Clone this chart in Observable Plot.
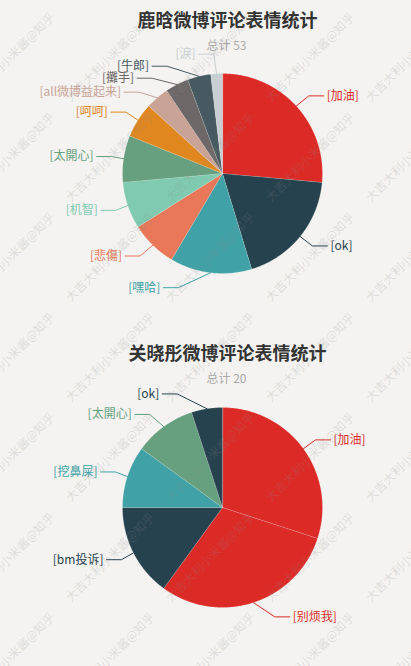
<!DOCTYPE html>
<html><head><meta charset="utf-8">
<script src="https://cdn.jsdelivr.net/npm/d3@7"></script>
<script src="https://cdn.jsdelivr.net/npm/@observablehq/plot@0.6"></script>
<style>
html,body{margin:0;padding:0;background:#f4f3f1;}
#chart{width:411px;height:666px;overflow:hidden;}
</style></head><body><div id="chart"></div>
<script>
// ---- data ----
const titles = ["鹿晗微博评论表情统计", "关晓彤微博评论表情统计"];
const subtitles = ["总计 53", "总计 20"];
const luhanNames = ["加油","ok","嘿哈","悲傷","机智","太開心","呵呵","all微博益起来","攤手","牛郎","淚"];
const luhanValues = [14,10,7,4,4,4,3,2,2,2,1];
const guanNames = ["加油","别烦我","bm投诉","挖鼻屎","太開心","ok"];
const guanValues = [6,6,3,2,2,1];
const colorNames = ["加油","ok","嘿哈","悲傷","机智","太開心","呵呵","all微博益起来","攤手","牛郎","淚","别烦我","bm投诉","挖鼻屎"];
const colorValues = ["#dc2b27","#27424f","#40a2a6","#e9775a","#7fcab0","#66a07e","#e0871f","#c9a496","#6d6867","#475a62","#c8cfd2","#dc2b27","#27424f","#40a2a6"];
const watermarkText = "大吉大利小米酱@知乎";

// ---- layout ----
const W = 411, H = 666;
const panels = [
  {names: luhanNames, values: luhanValues, top: 0, cy: 173},
  {names: guanNames, values: guanValues, top: 333, cy: 507}
];
const cx = 222, R = 100, LEN = 15, LEN2 = 15, LABEL_H = 12;

const slicePts = [], linePts = [], labelsL = [], labelsR = [], titleData = [], subData = [];

panels.forEach((p, pi) => {
  titleData.push({x: 227, y: p.top + 21, text: titles[pi]});
  subData.push({x: 226, y: p.top + 46, text: subtitles[pi]});
  const data = p.names.map((n, i) => ({name: n, value: p.values[i]}));
  const arcs = d3.pie().sort(null).value(d => d.value)(data);
  const labels = [];
  arcs.forEach((a, i) => {
    const key = pi + "-" + a.data.name;
    slicePts.push({key, name: a.data.name, x: cx, y: p.cy});
    const n = Math.max(2, Math.ceil((a.endAngle - a.startAngle) / 0.01));
    for (let k = 0; k <= n; k++) {
      const t = a.startAngle + (a.endAngle - a.startAngle) * k / n;
      slicePts.push({key, name: a.data.name, x: cx + R * Math.sin(t), y: p.cy - R * Math.cos(t)});
    }
    const m = (a.startAngle + a.endAngle) / 2;
    const dx = Math.sin(m), dy = -Math.cos(m);
    const x1 = cx + R * dx, y1 = p.cy + R * dy;
    const x2 = cx + (R + LEN) * dx, y2 = p.cy + (R + LEN) * dy;
    const s = dx < 0 ? -1 : 1;
    const x3 = x2 + s * LEN2;
    labels.push({key, name: a.data.name, side: s, x: x3 + s * 5, y: y2, height: LABEL_H,
      pts: [[x1, y1], [x2, y2], [x3, y2]]});
  });
  // echarts-like overlap avoidance per side
  [-1, 1].forEach(dir => {
    const list = labels.filter(l => l.side === dir).sort((a, b) => a.y - b.y);
    const len = list.length;
    function shiftUp(end, delta) {
      for (let j = end; j >= 0; j--) {
        list[j].y -= delta;
        if (j > 0 && list[j].y > list[j - 1].y + list[j - 1].height) break;
      }
    }
    function shiftDown(start, end, delta) {
      for (let j = start; j < end; j++) {
        list[j].y += delta;
        if (j > start && j + 1 < end && list[j + 1].y > list[j].y + list[j].height) {
          shiftUp(j, delta / 2);
          return;
        }
      }
      shiftUp(end - 1, delta / 2);
    }
    let lastY = 0;
    for (let i = 0; i < len; i++) {
      const delta = list[i].y - lastY;
      if (delta < 0) shiftDown(i, len, -delta);
      lastY = list[i].y + list[i].height;
    }
    const up = list.filter(l => l.y < p.cy), down = list.filter(l => l.y >= p.cy);
    [[up, false], [down, true]].forEach(([lst, isDown]) => {
      let last = isDown ? Number.MAX_VALUE : 0;
      lst.forEach(l => {
        const dY = Math.abs(l.y - p.cy);
        let dX = dY < R + LEN ? Math.sqrt((R + LEN + LEN2) ** 2 - dY * dY) : Math.abs(l.x - cx);
        if (isDown && dX >= last) dX = last - 10;
        if (!isDown && dX <= last) dX = last + 10;
        l.x = cx + dX * dir;
        last = dX;
      });
    });
  });
  labels.forEach(l => {
    const dist = l.pts[1][0] - l.pts[2][0];
    const ex = l.x - l.side * 3;
    const pts = [l.pts[0], [ex + dist, l.y], [ex, l.y]];
    pts.forEach(([x, y]) => linePts.push({key: l.key, name: l.name, x, y}));
    (l.side < 0 ? labelsL : labelsR).push({name: l.name, x: l.x, y: l.y, text: "[" + l.name + "]"});
  });
});

// watermark grid
const wm = [];
for (let i = -1; i <= 5; i++) for (let j = 0; j <= 7; j++) wm.push({x: 10 + 100 * i, y: 57 + 100 * j, text: watermarkText});

const chart = Plot.plot({
  width: W, height: H, margin: 0,
  x: {domain: [0, W], range: [0, W], axis: null},
  y: {domain: [0, H], range: [0, H], axis: null},
  color: {type: "ordinal", domain: colorNames, range: colorValues},
  style: {background: "#f4f3f1", fontFamily: "'Noto Sans CJK SC', 'Noto Sans', sans-serif"},
  marks: [
    Plot.line(slicePts, {x: "x", y: "y", z: "key", fill: "name", stroke: "#ffffff", strokeOpacity: 0.35, strokeWidth: 0.5, curve: "linear-closed"}),
    Plot.line(linePts, {x: "x", y: "y", z: "key", stroke: "name", strokeWidth: 1}),
    Plot.text(labelsL, {x: "x", y: "y", text: "text", fill: "name", textAnchor: "end", fontSize: 12}),
    Plot.text(labelsR, {x: "x", y: "y", text: "text", fill: "name", textAnchor: "start", fontSize: 12}),
    Plot.text(titleData, {x: "x", y: "y", text: "text", fontSize: 18, fontWeight: "bold", fill: "#333"}),
    Plot.text(subData, {x: "x", y: "y", text: "text", fontSize: 12, fill: "#aaa"}),
    Plot.text(wm, {x: "x", y: "y", text: "text", rotate: -45, fontSize: 12, fill: "#8a8a8a", fillOpacity: 0.22})
  ]
});
document.getElementById("chart").appendChild(chart);
</script>
</body></html>
